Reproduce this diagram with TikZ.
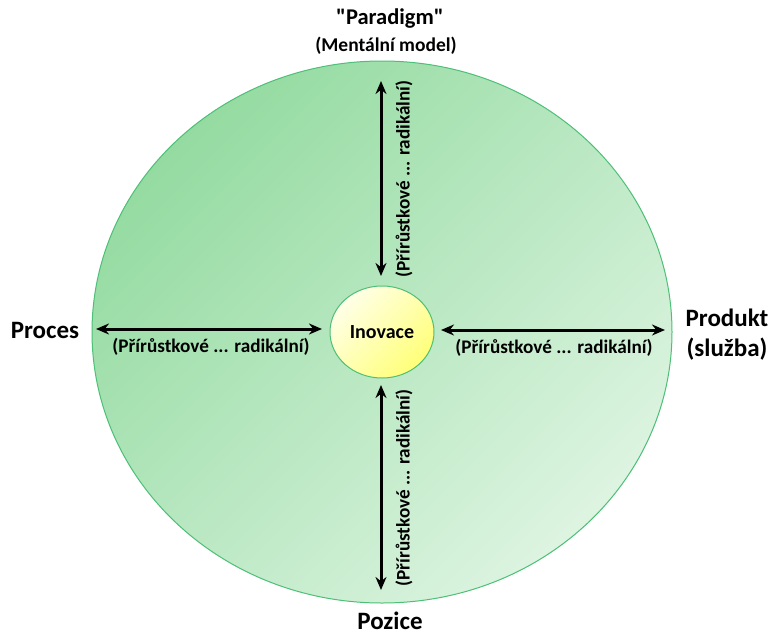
\documentclass[tikz,border=0pt]{standalone}
\usepackage{fontspec}
\setmainfont{Carlito}[Ligatures=TeXOff]
\usetikzlibrary{arrows.meta,shapes.geometric}
\definecolor{gdark}{HTML}{94DBA1}
\definecolor{glight}{HTML}{DDF4E1}
\definecolor{gedge}{HTML}{4DBF77}
\definecolor{ylight}{HTML}{FFFFE8}
\definecolor{ydark}{HTML}{FFFF78}
\begin{document}
\begin{tikzpicture}[x=1pt,y=-1pt,
  lbl/.style={font=\bfseries\fontsize{25}{30}\selectfont, align=center, inner sep=0pt},
  parlbl/.style={font=\bfseries\fontsize{22.5}{26}\selectfont, inner sep=0pt},
  sublbl/.style={font=\bfseries\fontsize{19.5}{23}\selectfont, inner sep=0pt},
  rng/.style={font=\bfseries\fontsize{19.2}{22}\selectfont, inner sep=0pt},
  arr/.style={line width=3pt, {Stealth[length=13pt,width=11pt]}-{Stealth[length=13pt,width=11pt]}},
  bigell/.style={ellipse, draw=gedge, line width=1pt, minimum width=580pt, minimum height=542pt, inner sep=0pt,
    left color=gdark, right color=glight, shading angle=45},
  smallell/.style={ellipse, draw=gedge, line width=1pt, minimum width=104pt, minimum height=92pt, inner sep=0pt,
    left color=ylight, right color=ydark, shading angle=45, font=\bfseries\fontsize{20}{24}\selectfont}]
\useasboundingbox (0,0) rectangle (769,635);
\node[bigell] (outer) at (382,332) {};
\node[smallell] (inov) at (382,332) {Inovace};
% arrows
\coordinate (t1) at (381,81); \coordinate (t2) at (381,276);
\coordinate (b1) at (381,385); \coordinate (b2) at (381,590);
\coordinate (l1) at (96,329); \coordinate (l2) at (322,329);
\coordinate (r1) at (441,330); \coordinate (r2) at (665,330);
\draw[arr] (t1) -- (t2);
\draw[arr] (b1) -- (b2);
\draw[arr] (l1) -- (l2);
\draw[arr] (r1) -- (r2);
% range labels
\node[rng, rotate=90] (tlab) at (404,179) {(Přírůstkové ... radikální)};
\node[rng, rotate=90] (blab) at (404,488) {(Přírůstkové ... radikální)};
\node[rng] (llab) at (211,347) {(Přírůstkové ... radikální)};
\node[rng] (rlab) at (554,348) {(Přírůstkové ... radikální)};
% outer labels
\node[parlbl] (par) at (390,19) {"Paradigm"};
\node[sublbl] (ment) at (386,46) {(Mentální model)};
\node[lbl] (proc) at (45,330) {Proces};
\node[lbl] (prod) at (727,335) {Produkt\\(služba)};
\node[lbl] (poz) at (390,621) {Pozice};
\end{tikzpicture}
\end{document}
